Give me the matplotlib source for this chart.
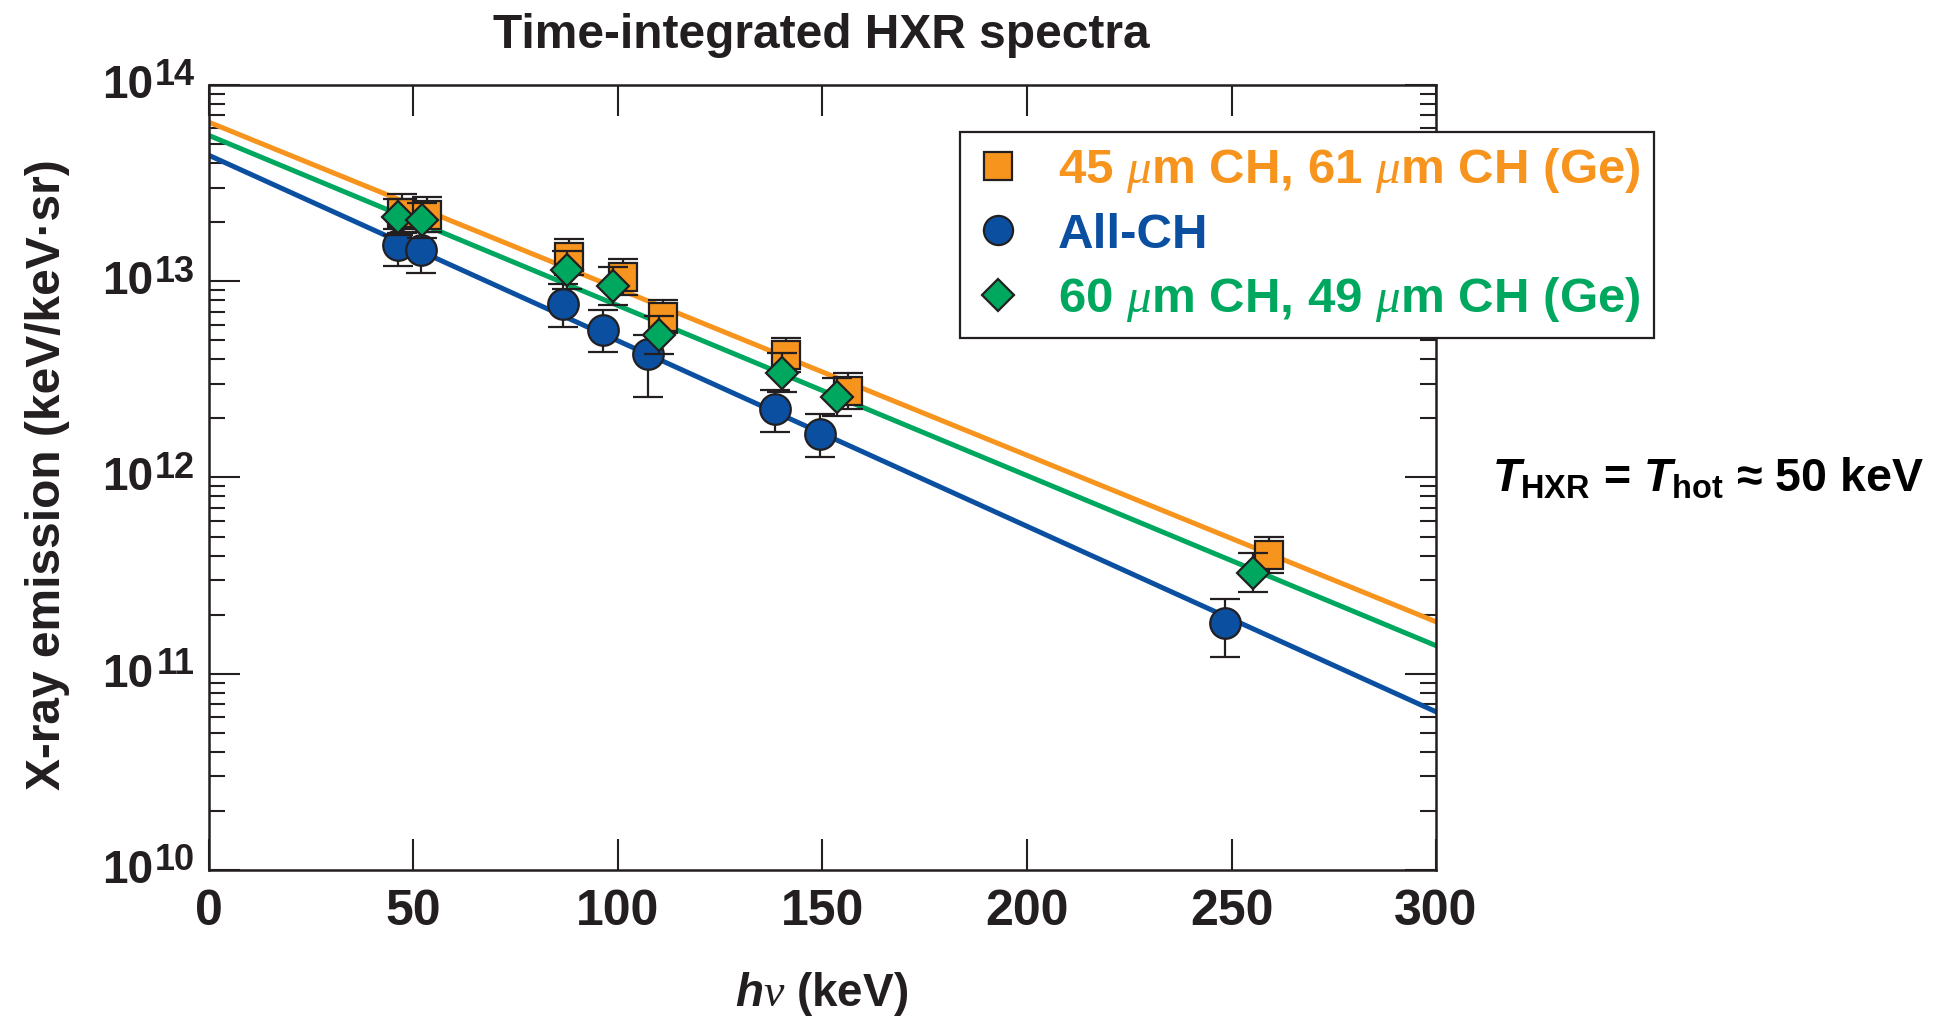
import matplotlib
matplotlib.use("Agg")
import matplotlib.pyplot as plt
import numpy as np
from matplotlib.lines import Line2D
from matplotlib.ticker import FixedLocator, LogLocator, NullFormatter, NullLocator

# Data: photon energy (keV), emission (keV/keV.sr),
# error bars as half-widths in decades (lo, hi)
sq_energy = [47.1, 53.2, 88.0, 101.3, 111.1, 141.2, 156.3, 259.2]
sq_emission = [2.22e13, 2.18e13, 1.33e13, 1.05e13, 6.6e12, 4.21e12, 2.77e12, 4.03e11]
sq_dex = [0.099, 0.090, 0.090, 0.090, 0.085, 0.085, 0.092, 0.093]

ci_energy = [46.3, 51.8, 86.5, 96.3, 107.4, 138.4, 149.4, 248.4]
ci_emission = [1.53e13, 1.44e13, 7.66e12, 5.65e12, 4.26e12, 2.22e12, 1.67e12, 1.82e11]
ci_dex_hi = [0.08, 0.09, 0.10, 0.10, 0.097, 0.10, 0.10, 0.122]
ci_dex_lo = [0.107, 0.115, 0.116, 0.114, 0.221, 0.114, 0.116, 0.173]

di_energy = [46.3, 52.0, 87.5, 98.9, 110.1, 140.2, 153.5, 255.2]
di_emission = [2.12e13, 2.04e13, 1.14e13, 9.46e12, 5.32e12, 3.42e12, 2.57e12, 3.27e11]
di_dex = [0.09, 0.09, 0.095, 0.097, 0.095, 0.10, 0.096, 0.10]

# exponential fits, end points at 0 and 300 keV
fit_energy = [0, 300]
fit_orange = [6.46e13, 1.84e11]
fit_green = [5.53e13, 1.39e11]
fit_blue = [4.38e13, 6.4e10]

x_ticks = [0, 50, 100, 150, 200, 250, 300]
y_decades = [10, 11, 12, 13, 14]

labels = ["45 $\\mathsf{\\mu}$m CH, 61 $\\mathsf{\\mu}$m CH (Ge)", "All-CH",
          "60 $\\mathsf{\\mu}$m CH, 49 $\\mathsf{\\mu}$m CH (Ge)"]

ORANGE = "#f7941d"
BLUE = "#0b4fa1"
GREEN = "#00a85f"
EDGE = "#231f20"

FONT = ["Liberation Sans", "DejaVu Sans"]

plt.rcParams["font.family"] = FONT
plt.rcParams["mathtext.fontset"] = "custom"
plt.rcParams["mathtext.it"] = "Liberation Sans:italic:bold"
plt.rcParams["mathtext.rm"] = "Liberation Sans:bold"
plt.rcParams["mathtext.bf"] = "Liberation Sans:bold"
plt.rcParams["mathtext.sf"] = "Liberation Serif:italic"


def yerr_from_dex(y, lo, hi):
    y = np.asarray(y)
    return [y - y * 10 ** (-np.asarray(lo)), y * 10 ** np.asarray(hi) - y]


fig = plt.figure(figsize=(19.49, 10.21), dpi=100)
ax = fig.add_axes([0.1072, 0.1479, 0.6296, 0.7689])

ax.plot(fit_energy, fit_blue, color=BLUE, lw=3.6, zorder=2)
ax.plot(fit_energy, fit_green, color=GREEN, lw=3.6, zorder=2)
ax.plot(fit_energy, fit_orange, color=ORANGE, lw=3.6, zorder=2)

common = dict(ls="none", ecolor=EDGE, elinewidth=1.6, capsize=11, capthick=1.6,
              mec=EDGE, mew=1.6)
ax.errorbar(ci_energy, ci_emission, yerr=yerr_from_dex(ci_emission, ci_dex_lo, ci_dex_hi),
            marker="o", ms=22, mfc=BLUE, zorder=3, **common)
ax.errorbar(sq_energy, sq_emission, yerr=yerr_from_dex(sq_emission, sq_dex, sq_dex),
            marker="s", ms=20, mfc=ORANGE, zorder=4, **common)
ax.errorbar(di_energy, di_emission, yerr=yerr_from_dex(di_emission, di_dex, di_dex),
            marker="D", ms=16.5, mfc=GREEN, zorder=5, **common)

ax.set_yscale("log")
ax.set_xlim(0, 300)
ax.set_ylim(1e10, 1e14)

ax.xaxis.set_major_locator(FixedLocator(x_ticks))
ax.xaxis.set_minor_locator(NullLocator())
ax.yaxis.set_major_locator(FixedLocator([10.0 ** e for e in y_decades]))
ax.yaxis.set_minor_locator(LogLocator(base=10, subs=np.arange(2, 10), numticks=20))
ax.yaxis.set_major_formatter(NullFormatter())
ax.yaxis.set_minor_formatter(NullFormatter())

ax.tick_params(which="both", direction="in", top=True, right=True, width=1.5, color=EDGE)
ax.tick_params(which="major", length=22)
ax.tick_params(which="minor", length=11.5)
ax.tick_params(axis="x", pad=14, labelsize=36, labelcolor=EDGE)
for lab in ax.get_xticklabels():
    lab.set_fontweight("bold")
for sp in ax.spines.values():
    sp.set_linewidth(1.8)
    sp.set_color(EDGE)

# decade labels: big "10" with a large exponent
for e in y_decades:
    ax.annotate("10", xy=(0, 10.0 ** e), xycoords=("axes fraction", "data"),
                xytext=(-40, -0.7), textcoords="offset points", ha="right", va="center",
                size=33, weight="bold", color=EDGE, annotation_clip=False)
    ax.annotate(str(e), xy=(0, 10.0 ** e), xycoords=("axes fraction", "data"),
                xytext=(-10, 6.5), textcoords="offset points", ha="right", va="center",
                size=26, weight="bold", color=EDGE, annotation_clip=False)

handles = [
    Line2D([], [], ls="none", marker="s", ms=20, mfc=ORANGE, mec=EDGE, mew=1.6),
    Line2D([], [], ls="none", marker="o", ms=21, mfc=BLUE, mec=EDGE, mew=1.6),
    Line2D([], [], ls="none", marker="D", ms=16.5, mfc=GREEN, mec=EDGE, mew=1.6),
]
leg = ax.legend(handles, labels, loc="upper left", bbox_to_anchor=(960 / 1949, 1 - 132 / 1021),
                bbox_transform=fig.transFigure, borderaxespad=0, fancybox=False,
                framealpha=1, edgecolor=EDGE, handlelength=1.0, handletextpad=0.7,
                labelspacing=0.36, borderpad=0.28,
                prop={"weight": "bold", "size": 35.5})
leg.get_frame().set_linewidth(1.6)
leg.set_zorder(10)
for txt, c in zip(leg.get_texts(), [ORANGE, BLUE, GREEN]):
    txt.set_color(c)

fig.text(0.4213, 1 - 48 / 1021, "Time-integrated HXR spectra", ha="center", va="baseline",
         weight="bold", size=34.5, color=EDGE)
fig.text(0.4213, 1 - 994 / 1021, "$h\\mathsf{\\nu}$ (keV)", ha="center", va="center",
         weight="bold", size=33, color=EDGE)
fig.text(48 / 1949, 1 - 475 / 1021, "X-ray emission (keV/keV\u00b7sr)", rotation=90,
         ha="center", va="center", weight="bold", size=34.5, color=EDGE)
fig.text(1492 / 1949, 1 - 479 / 1021, "$T_{\\mathrm{HXR}}$ = $T_{\\mathrm{hot}}$ \u2248 50 keV",
         ha="left", va="center", weight="bold", size=33.5, color="black")

fig.savefig("out.png", dpi=100)
